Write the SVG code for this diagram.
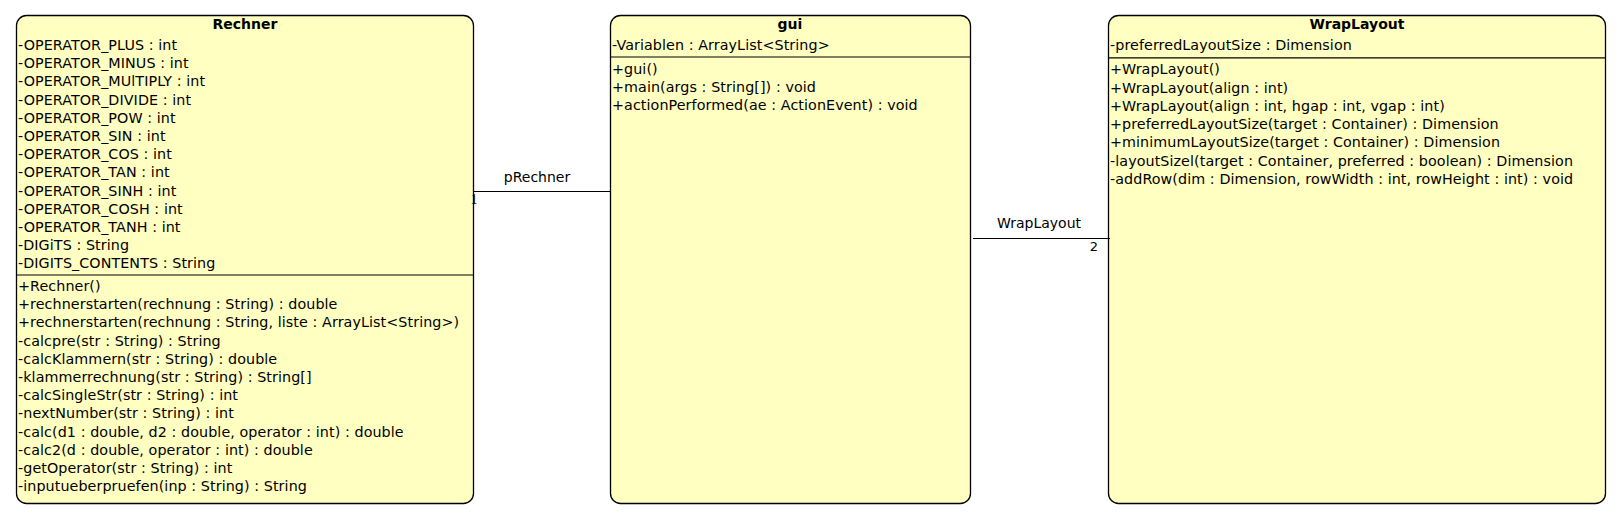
<svg xmlns="http://www.w3.org/2000/svg" width="1624" height="526" viewBox="0 0 1624 526">
<style>
.box{fill:#FFFFC2;stroke:#000;stroke-width:1.3}
.sep{stroke:#000;stroke-width:1.2}
.t{font-family:"DejaVu Sans",sans-serif;font-size:14.3px;letter-spacing:0.08px;fill:#000}
.title{font-family:"DejaVu Sans",sans-serif;font-size:14px;font-weight:bold;fill:#000;text-anchor:middle}
.lbl{font-family:"DejaVu Sans",sans-serif;font-size:14px;fill:#000;text-anchor:middle}
.conn{stroke:#000;stroke-width:1.2;fill:none}
</style>
<rect width="1624" height="526" fill="#fff"/>
<g id="Rechner">
<rect class="box" x="16.5" y="15.5" width="457" height="488" rx="10" ry="10"/>
<text class="title" x="245" y="28.5">Rechner</text>
<line class="sep" x1="16.5" y1="275" x2="473.5" y2="275"/>
<text class="t" x="18" y="50">-OPERATOR_PLUS : int</text>
<text class="t" x="18" y="68.2">-OPERATOR_MINUS : int</text>
<text class="t" x="18" y="86.4">-OPERATOR_MUlTIPLY : int</text>
<text class="t" x="18" y="104.6">-OPERATOR_DIVIDE : int</text>
<text class="t" x="18" y="122.8">-OPERATOR_POW : int</text>
<text class="t" x="18" y="141">-OPERATOR_SIN : int</text>
<text class="t" x="18" y="159.2">-OPERATOR_COS : int</text>
<text class="t" x="18" y="177.4">-OPERATOR_TAN : int</text>
<text class="t" x="18" y="195.6">-OPERATOR_SINH : int</text>
<text class="t" x="18" y="213.8">-OPERATOR_COSH : int</text>
<text class="t" x="18" y="232">-OPERATOR_TANH : int</text>
<text class="t" x="18" y="250.2">-DIGiTS : String</text>
<text class="t" x="18" y="268.4">-DIGITS_CONTENTS : String</text>
<text class="t" x="18" y="291">+Rechner()</text>
<text class="t" x="18" y="309.2">+rechnerstarten(rechnung : String) : double</text>
<text class="t" x="18" y="327.4">+rechnerstarten(rechnung : String, liste : ArrayList&lt;String&gt;)</text>
<text class="t" x="18" y="345.6">-calcpre(str : String) : String</text>
<text class="t" x="18" y="363.8">-calcKlammern(str : String) : double</text>
<text class="t" x="18" y="382">-klammerrechnung(str : String) : String[]</text>
<text class="t" x="18" y="400.2">-calcSingleStr(str : String) : int</text>
<text class="t" x="18" y="418.4">-nextNumber(str : String) : int</text>
<text class="t" x="18" y="436.6">-calc(d1 : double, d2 : double, operator : int) : double</text>
<text class="t" x="18" y="454.8">-calc2(d : double, operator : int) : double</text>
<text class="t" x="18" y="473">-getOperator(str : String) : int</text>
<text class="t" x="18" y="491.2">-inputueberpruefen(inp : String) : String</text>
</g>
<g id="gui">
<rect class="box" x="610.5" y="15.5" width="360" height="488" rx="10" ry="10"/>
<text class="title" x="790" y="28.5">gui</text>
<text class="t" x="612" y="50">-Variablen : ArrayList&lt;String&gt;</text>
<line class="sep" x1="610.5" y1="57" x2="970.5" y2="57"/>
<text class="t" x="612" y="73.8">+gui()</text>
<text class="t" x="612" y="92">+main(args : String[]) : void</text>
<text class="t" x="612" y="110.2">+actionPerformed(ae : ActionEvent) : void</text>
</g>
<g id="WrapLayout">
<rect class="box" x="1108.5" y="15.5" width="497" height="488" rx="10" ry="10"/>
<text class="title" x="1357" y="29">WrapLayout</text>
<text class="t" x="1110" y="50.4">-preferredLayoutSize : Dimension</text>
<line class="sep" x1="1108.5" y1="57.8" x2="1605.5" y2="57.8"/>
<text class="t" x="1110" y="74.2">+WrapLayout()</text>
<text class="t" x="1110" y="92.5">+WrapLayout(align : int)</text>
<text class="t" x="1110" y="110.8">+WrapLayout(align : int, hgap : int, vgap : int)</text>
<text class="t" x="1110" y="129.1">+preferredLayoutSize(target : Container) : Dimension</text>
<text class="t" x="1110" y="147.4">+minimumLayoutSize(target : Container) : Dimension</text>
<text class="t" x="1110" y="165.7">-layoutSizel(target : Container, preferred : boolean) : Dimension</text>
<text class="t" x="1110" y="184">-addRow(dim : Dimension, rowWidth : int, rowHeight : int) : void</text>
</g>
<g id="connectors">
<line class="conn" x1="474" y1="191.5" x2="610.5" y2="191.5"/>
<text class="lbl" x="537" y="182">pRechner</text>
<text x="470.5" y="204" style="font-family:'Liberation Serif',serif;font-size:14px;fill:#000">1</text>
<line class="conn" x1="973" y1="238.5" x2="1110" y2="238.5"/>
<text class="lbl" x="1039" y="227.5">WrapLayout</text>
<text x="1098" y="250.5" style="font-family:'DejaVu Sans',sans-serif;font-size:13px;fill:#000;text-anchor:end">2</text>
</g>
</svg>
